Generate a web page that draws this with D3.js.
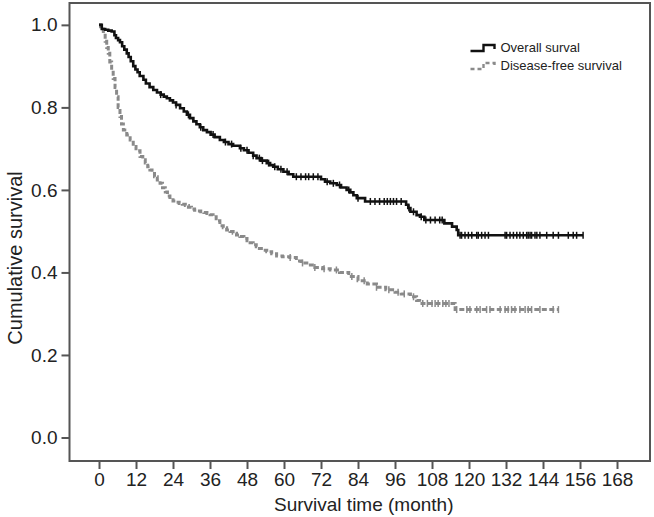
<!DOCTYPE html>
<html>
<head>
<meta charset="utf-8">
<script src="https://cdn.jsdelivr.net/npm/d3@7"></script>
<style>
body { margin:0; background:#fff; }
text { font-family:"Liberation Sans", Arial, sans-serif; fill:#222; }
</style>
</head>
<body>
<div id="chart"></div>
<script>
// overall survival (step points)
var osTime = [0, 0.9, 2, 3, 4.1, 5, 5.5, 6.2, 6.8, 7.5, 8.2, 9, 9.6, 10.3, 11.1, 11.8, 12.5, 13.2, 14.4, 15.2, 16.4, 17.6, 18.8, 20, 21, 22, 23, 24, 25, 26.3, 27.5, 28.5, 29.5, 30.6, 31.6, 32.7, 33.8, 35, 36.2, 37.5, 39.2, 40.5, 42, 43.5, 45.7, 47, 48.5, 50, 51.1, 52.5, 54.4, 55.5, 56.5, 58, 59.8, 61.5, 63, 72, 73.3, 75, 77.1, 78.5, 80.3, 81.5, 82.5, 83.6, 86.3, 99.6, 100.3, 101, 103, 104.1, 105.5, 112, 114.5, 116, 116.5, 157];
var osSurv = [1.0, 0.99, 0.988, 0.986, 0.984, 0.975, 0.968, 0.963, 0.958, 0.948, 0.94, 0.931, 0.922, 0.912, 0.9, 0.892, 0.885, 0.876, 0.867, 0.858, 0.849, 0.842, 0.836, 0.831, 0.826, 0.822, 0.817, 0.812, 0.806, 0.798, 0.79, 0.782, 0.774, 0.766, 0.759, 0.752, 0.745, 0.74, 0.734, 0.728, 0.721, 0.716, 0.711, 0.707, 0.701, 0.696, 0.69, 0.683, 0.677, 0.671, 0.665, 0.66, 0.656, 0.65, 0.644, 0.638, 0.632, 0.626, 0.62, 0.616, 0.612, 0.606, 0.6, 0.594, 0.587, 0.58, 0.572, 0.564, 0.556, 0.547, 0.539, 0.535, 0.527, 0.519, 0.511, 0.503, 0.49, 0.49];
var osCensor = [20, 25, 29, 33, 37, 41, 43, 46, 48, 50, 52, 53, 55, 57, 59, 61, 64, 65.5, 67, 68, 69.5, 71, 74, 76, 78, 81, 84, 88, 89.5, 91, 92.5, 93.5, 94.5, 95.5, 96.5, 98, 100.5, 102, 104.5, 106, 107.5, 109, 110.5, 111.3,
	117.1, 117.6, 118.7, 119.8, 120.9, 122.5, 123, 124.1, 125.2, 126.3, 131.7, 132.2, 133.3, 134.4, 135.5, 136.5, 137.6, 138.7, 139.2, 139.8, 140.3, 141.4, 142, 143, 145.2, 147.3, 149, 152.2, 153.8, 154.9, 157];

// disease-free survival
var dfsTime = [0, 0.5, 1.4, 2, 2.5, 3, 3.5, 4.1, 4.6, 5.2, 5.7, 6.2, 6.8, 7.3, 7.9, 9, 10.1, 11.1, 12, 13.3, 14.2, 15, 15.8, 16.5, 17.2, 18, 18.9, 19.8, 20.6, 21.5, 22.2, 23, 24, 25, 26, 27, 28, 29, 30, 31, 32, 33, 34, 35, 36, 37, 38, 39.2, 40.3, 41.4, 42.5, 43.5, 44.6, 45.7, 47, 48, 49, 50, 51, 52, 53.2, 54.4, 56, 57.6, 59.5, 61.9, 64, 65.5, 67.4, 70, 72.5, 75, 78, 81, 84, 87, 90, 93, 96, 98, 101, 103, 104, 115.5, 149];
var dfsSurv = [1.0, 0.99, 0.98, 0.96, 0.945, 0.931, 0.91, 0.891, 0.87, 0.848, 0.826, 0.8, 0.778, 0.76, 0.745, 0.733, 0.721, 0.705, 0.695, 0.681, 0.673, 0.665, 0.656, 0.648, 0.64, 0.632, 0.624, 0.616, 0.605, 0.595, 0.585, 0.576, 0.573, 0.57, 0.567, 0.565, 0.562, 0.558, 0.554, 0.551, 0.549, 0.547, 0.545, 0.543, 0.54, 0.535, 0.525, 0.513, 0.508, 0.503, 0.499, 0.495, 0.491, 0.487, 0.482, 0.477, 0.472, 0.467, 0.462, 0.458, 0.454, 0.45, 0.445, 0.44, 0.438, 0.436, 0.428, 0.423, 0.418, 0.412, 0.409, 0.406, 0.4, 0.39, 0.38, 0.372, 0.364, 0.358, 0.352, 0.348, 0.341, 0.332, 0.325, 0.31, 0.31];
var dfsCensor = [62, 66, 70, 73, 77, 82, 86, 90, 94, 97, 99, 102, 105, 106.5, 108, 109, 110, 111.5, 112.5, 113.5,
	116, 119.3, 120.3, 122.5, 123.6, 125.7, 126.8, 130.1, 131.7, 132.7, 133.8, 134.9, 136.5, 138.2, 139.2, 140.3, 143, 147.3, 149];

var xTicks = [0, 12, 24, 36, 48, 60, 72, 84, 96, 108, 120, 132, 144, 156, 168];
var yTicks = [0, 0.2, 0.4, 0.6, 0.8, 1.0];
var legendLabels = ["Overall surval", "Disease-free survival"];

var margin = { top:3, right:4, bottom:56, left:69.5 },
	width = 654 - margin.left - margin.right,
	height = 517 - margin.top - margin.bottom;

var x = d3.scaleLinear().domain([-9.57, 178.7]).range([0, width]);
var y = d3.scaleLinear().domain([-0.057, 1.053]).range([height, 0]);

function zip(t, s) { return t.map(function(d, i) { return { t:d, s:s[i] }; }); }
function survAt(t, s, c) {
	var v = s[0];
	for (var i = 0; i < t.length; i++) { if (t[i] <= c) v = s[i]; }
	return v;
}

var svg = d3.select("#chart").append("svg")
	.attr("width", 654).attr("height", 517)
	.append("g").attr("transform", "translate(" + margin.left + "," + margin.top + ")");

var line = d3.line().curve(d3.curveStepAfter)
	.x(function(d) { return x(d.t); })
	.y(function(d) { return y(d.s); });

// dfs curve
svg.append("path").datum(zip(dfsTime, dfsSurv))
	.attr("d", line).attr("fill", "none")
	.attr("stroke", "#8a8a8a").attr("stroke-width", 3).attr("stroke-dasharray", "5,2.5");
svg.append("g").selectAll("line").data(dfsCensor).enter().append("line")
	.attr("x1", function(d) { return x(d); }).attr("x2", function(d) { return x(d); })
	.attr("y1", function(d) { return y(survAt(dfsTime, dfsSurv, d)) - 3.5; })
	.attr("y2", function(d) { return y(survAt(dfsTime, dfsSurv, d)) + 3.5; })
	.attr("stroke", "#8a8a8a").attr("stroke-width", 1.5);

// os curve
svg.append("path").datum(zip(osTime, osSurv))
	.attr("d", line).attr("fill", "none")
	.attr("stroke", "#111").attr("stroke-width", 2.6);
svg.append("g").selectAll("line").data(osCensor).enter().append("line")
	.attr("x1", function(d) { return x(d); }).attr("x2", function(d) { return x(d); })
	.attr("y1", function(d) { return y(survAt(osTime, osSurv, d)) - 3.5; })
	.attr("y2", function(d) { return y(survAt(osTime, osSurv, d)) + 3.5; })
	.attr("stroke", "#111").attr("stroke-width", 1.5);

// frame
svg.append("rect").attr("x", 0).attr("y", 0).attr("width", width).attr("height", height)
	.attr("fill", "none").attr("stroke", "#555").attr("stroke-width", 2);

// axes
var xax = svg.append("g").attr("transform", "translate(0," + height + ")")
	.call(d3.axisBottom(x).tickValues(xTicks).tickSize(8).tickPadding(4).tickFormat(d3.format("d")));
var yax = svg.append("g")
	.call(d3.axisLeft(y).tickValues(yTicks).tickSize(8).tickPadding(4).tickFormat(d3.format(".1f")));
[xax, yax].forEach(function(a) {
	a.select(".domain").remove();
	a.selectAll(".tick line").attr("stroke", "#555").attr("stroke-width", 2);
	a.selectAll(".tick text").style("font-size", "19px").attr("fill", "#222");
});

svg.append("text").attr("x", width / 2 + 4).attr("y", height + 50)
	.attr("text-anchor", "middle").style("font-size", "19px").text("Survival time (month)");
svg.append("text").attr("transform", "translate(-48,255) rotate(-90)")
	.attr("text-anchor", "middle").style("font-size", "20px").text("Cumulative survival");

// legend
var lg = svg.append("g").attr("transform", "translate(" + (470.5 - margin.left) + "," + (51 - margin.top) + ")");
lg.append("path").attr("d", "M0,0H13V-6H24V-2")
	.attr("fill", "none").attr("stroke", "#111").attr("stroke-width", 2.4);
lg.append("path").attr("d", "M0,18H13V12H24V16")
	.attr("fill", "none").attr("stroke", "#8a8a8a").attr("stroke-width", 2.4).attr("stroke-dasharray", "4,3");
lg.selectAll("text.lab").data(legendLabels).enter().append("text").attr("class", "lab")
	.attr("x", 30).attr("y", function(d, i) { return 1 + i * 18; })
	.style("font-size", "13px").text(function(d) { return d; });
</script>
</body>
</html>
